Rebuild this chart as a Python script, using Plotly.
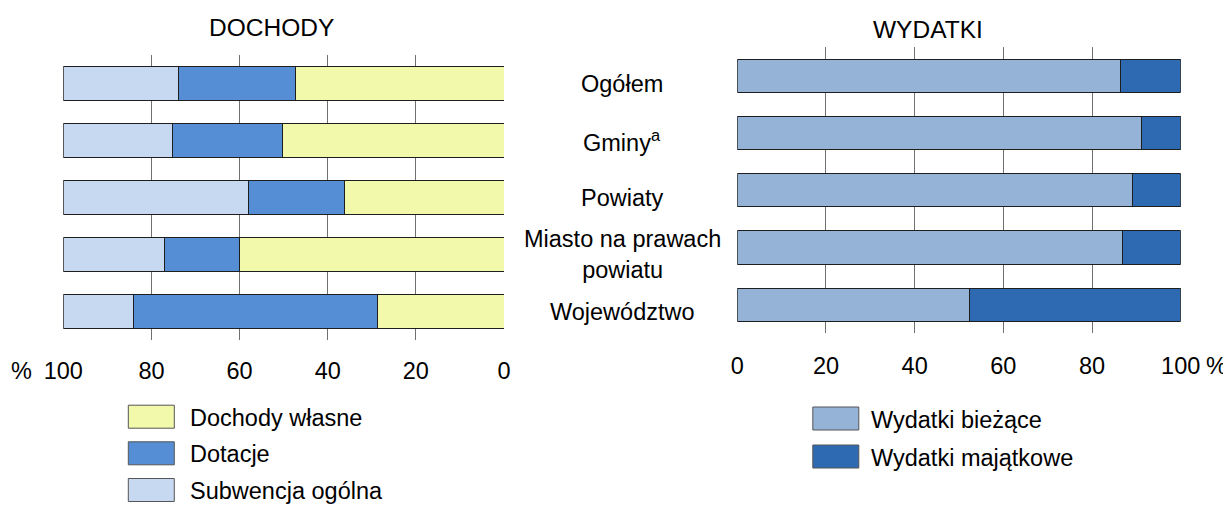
import plotly.graph_objects as go

# ---- data ----
categories = ["Ogółem", "Gminy<sup>a</sup>", "Powiaty", "Miasto na prawach<br>powiatu", "Województwo"]
dochody_wlasne = [47.3, 50.2, 36.3, 60.1, 28.7]
dotacje = [26.5, 25.1, 21.6, 17.0, 55.4]
subwencja_ogolna = [26.2, 24.7, 42.1, 22.9, 15.9]
wydatki_biezace = [86.5, 91.1, 89.2, 86.8, 52.3]
wydatki_majatkowe = [13.5, 8.9, 10.8, 13.2, 47.7]
tick_vals = [0, 20, 40, 60, 80, 100]
left_title = "DOCHODY"
right_title = "WYDATKI"
left_series = [("Dochody własne", dochody_wlasne, "#F2F9AA"),
               ("Dotacje", dotacje, "#558ED5"),
               ("Subwencja ogólna", subwencja_ogolna, "#C6D9F1")]
right_series = [("Wydatki bieżące", wydatki_biezace, "#95B3D7"),
                ("Wydatki majątkowe", wydatki_majatkowe, "#2E6AB1")]

# the page body has an 8px margin, so the figure starts at (8, 8) of the window
OFF = 8
W, H = 1231 - OFF, 509 - OFF
FONT = "Arial, Liberation Sans, sans-serif"
FS = 23.5
TFS = 24.5
OUTLINE = "#1e1e1e"
GRID = "#707070"

def px(x):
    return (x - OFF) / W

def py(y):
    return 1 - (y - OFF) / H

fig = go.Figure()

for name, vals, col in left_series:
    fig.add_trace(go.Bar(x=vals, y=categories, orientation="h", name=name,
                         marker=dict(color=col, line=dict(color=OUTLINE, width=1)),
                         xaxis="x", yaxis="y", showlegend=False))
for name, vals, col in right_series:
    fig.add_trace(go.Bar(x=vals, y=categories, orientation="h", name=name,
                         marker=dict(color=col, line=dict(color=OUTLINE, width=1)),
                         xaxis="x2", yaxis="y2", showlegend=False))

axis_common = dict(tickvals=tick_vals, showgrid=True, gridcolor=GRID, gridwidth=1,
                   zeroline=False, showline=False, ticks="", automargin=False,
                   tickfont=dict(family=FONT, size=FS, color="#000"))

annotations = []
shapes = []

# titles
annotations.append(dict(text=left_title, x=px(271.7), y=py(27), xref="paper", yref="paper",
                        xanchor="center", yanchor="middle", showarrow=False,
                        font=dict(family=FONT, size=TFS, color="#000")))
annotations.append(dict(text=right_title, x=px(927.5), y=py(29), xref="paper", yref="paper",
                        xanchor="center", yanchor="middle", showarrow=False,
                        font=dict(family=FONT, size=TFS, color="#000")))
# percent signs
annotations.append(dict(text="%", x=px(21), y=py(371), xref="paper", yref="paper",
                        xanchor="center", yanchor="middle", showarrow=False,
                        font=dict(family=FONT, size=FS, color="#000")))
annotations.append(dict(text="%", x=px(1216.5), y=py(366), xref="paper", yref="paper",
                        xanchor="center", yanchor="middle", showarrow=False,
                        font=dict(family=FONT, size=FS, color="#000")))
# category labels
for c in categories:
    annotations.append(dict(text=c, x=px(622), y=c, xref="paper", yref="y",
                            xanchor="center", yanchor="middle", align="center", showarrow=False,
                            font=dict(family=FONT, size=FS, color="#000")))

# legends (manual)
def legend_block(series, x0, ycenters, textx, sw=46, sh=23):
    for (name, _, col), yc in zip(series, ycenters):
        shapes.append(dict(type="rect", xref="paper", yref="paper",
                           x0=px(x0), x1=px(x0 + sw), y0=py(yc + sh / 2), y1=py(yc - sh / 2),
                           fillcolor=col, line=dict(color="#555", width=1)))
        annotations.append(dict(text=name, x=px(textx), y=py(yc + 1), xref="paper", yref="paper",
                                xanchor="left", yanchor="middle", showarrow=False,
                                font=dict(family=FONT, size=FS, color="#000")))

legend_block(left_series, 128.3, [416.7, 453.3, 490.0], 188.3)
legend_block(right_series, 812.8, [418.5, 456.5], 869.3)

fig.update_layout(
    width=W, height=H,
    margin=dict(l=0, r=0, t=0, b=0, pad=0, autoexpand=False),
    paper_bgcolor="white", plot_bgcolor="white",
    barmode="stack", bargap=0.42, showlegend=False,
    xaxis=dict(domain=[px(63.3), px(504)], range=[100, 0], anchor="y",
               ticklabelstandoff=14, **axis_common),
    yaxis=dict(domain=[py(340), py(55)], autorange="reversed", showticklabels=False,
               showgrid=False, zeroline=False, showline=False, ticks="", anchor="x",
               automargin=False),
    xaxis2=dict(domain=[px(737.3), px(1180.7)], range=[0, 100], anchor="y2",
                ticklabelstandoff=16, **axis_common),
    yaxis2=dict(domain=[py(333.4), py(47.2)], autorange="reversed", showticklabels=False,
                showgrid=False, zeroline=False, showline=False, ticks="", anchor="x2",
                automargin=False),
    annotations=annotations, shapes=shapes,
    font=dict(family=FONT, size=FS, color="#000"),
)

fig.write_html("out.html")
